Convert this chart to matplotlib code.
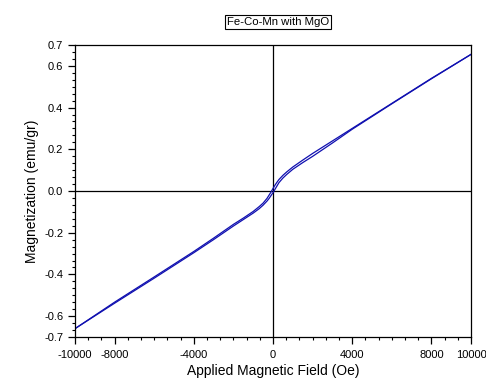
"""
Boucle d'aimantation M(H) de l'echantillon Fe-Co-Mn avec MgO.
Branche descendante (+10 kOe -> -10 kOe) et branche montante (-10 kOe -> +10 kOe).
"""

import numpy as np
import matplotlib
matplotlib.use("Agg")
import matplotlib.pyplot as plt
from matplotlib.ticker import FixedLocator

# champ applique (Oe), branche descendante
champ_desc = [10000, 8000, 6000, 4000, 3000, 2000, 1500, 1000, 700, 500, 300,
              200, 100, 0, -100, -200, -300, -500, -700, -1000, -1500, -2000,
              -3000, -4000, -6000, -8000, -10000]
aim_desc = [0.655, 0.540, 0.420, 0.300, 0.240, 0.180, 0.148, 0.115, 0.092,
            0.075, 0.055, 0.042, 0.028, 0.012, -0.005, -0.020, -0.035, -0.058,
            -0.075, -0.098, -0.130, -0.160, -0.226, -0.290, -0.412, -0.533,
            -0.660]

# branche montante
champ_mont = champ_desc[::-1]
aim_mont = [-0.660, -0.538, -0.418, -0.296, -0.233, -0.168, -0.137, -0.106,
            -0.085, -0.068, -0.048, -0.036, -0.022, -0.008, 0.008, 0.024,
            0.040, 0.062, 0.080, 0.104, 0.136, 0.166, 0.230, 0.296, 0.418,
            0.538, 0.655]

xticks = [-10000, -8000, -4000, 0, 4000, 8000, 10000]
yticks = [-0.7, -0.6, -0.4, -0.2, 0.0, 0.2, 0.4, 0.6, 0.7]

plt.rcParams["font.family"] = ["Liberation Sans", "DejaVu Sans"]

fig = plt.figure(figsize=(4.86, 3.81), dpi=100)
ax = fig.add_axes([75 / 486, 1 - 337 / 381, 396 / 486, 292 / 381])

couleur = "#1010b0"
ax.plot(champ_desc, aim_desc, color=couleur, lw=0.9)
ax.plot(champ_mont, aim_mont, color=couleur, lw=0.9)

ax.axhline(0, color="black", lw=0.9, zorder=1)
ax.axvline(0, color="black", lw=0.9, zorder=1)

ax.set_xlim(-10000, 10000)
ax.set_ylim(-0.7, 0.7)

ax.set_xticks(xticks)
ax.set_xticklabels([str(v) for v in xticks])
ax.set_yticks(yticks)
ax.set_yticklabels([f"{v:.1f}" for v in yticks])
ax.xaxis.set_minor_locator(FixedLocator(np.arange(-10000, 10001, 4000 / 6)))
ax.yaxis.set_minor_locator(FixedLocator(np.arange(-0.7, 0.7001, 0.2 / 6)))

ax.tick_params(which="major", direction="out", length=5, width=0.9,
               labelsize=8, top=False, right=False)
ax.tick_params(axis="x", which="major", pad=4)
ax.tick_params(which="minor", direction="out", length=2.5, width=0.8,
               top=False, right=False)
for s in ax.spines.values():
    s.set_linewidth(0.9)

ax.set_xlabel("Applied Magnetic Field (Oe)", fontsize=10, labelpad=3)
ax.set_ylabel("Magnetization (emu/gr)", fontsize=10, labelpad=4)

fig.text(278 / 486, 1 - 22 / 381, "Fe-Co-Mn with MgO", fontsize=8.2,
         ha="center", va="center",
         bbox=dict(boxstyle="square,pad=0.2", fc="white", ec="black", lw=0.8))

fig.savefig("out.png", dpi=100)
